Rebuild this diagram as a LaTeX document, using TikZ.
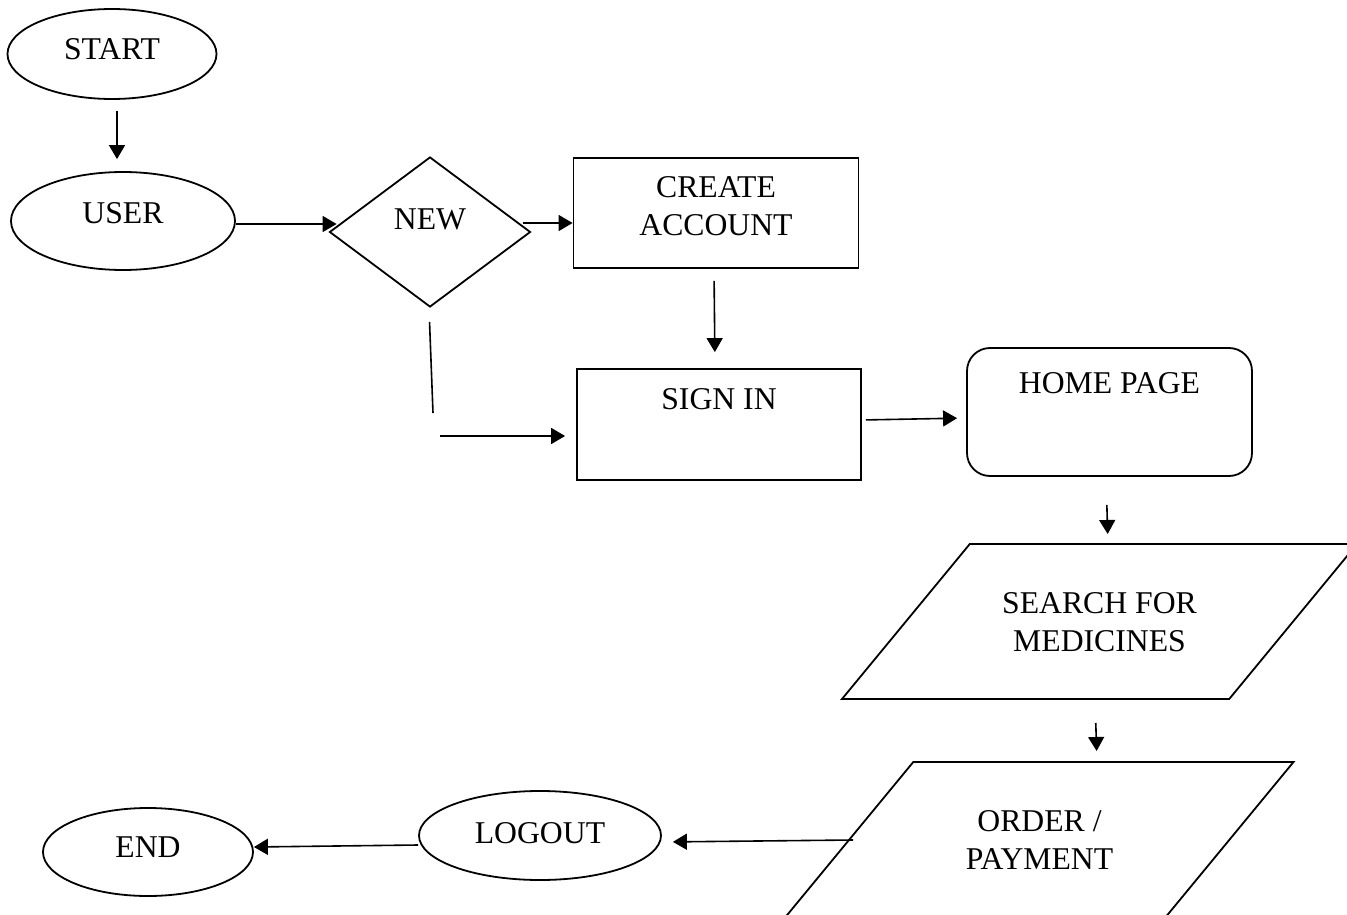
\documentclass[tikz,border=0pt]{standalone}
\usepackage{fontspec}
\setmainfont{Liberation Serif}
\usetikzlibrary{shapes.geometric, arrows.meta}

\begin{document}
\begin{tikzpicture}[x=1pt, y=-1pt,
  terminal/.style = {ellipse, draw, line width=1.8pt},
  decision/.style = {diamond, draw, line width=1.8pt, minimum width=201pt, minimum height=150pt},
  process/.style = {rectangle, draw, line width=1.8pt, minimum width=285pt, minimum height=110pt, align=center},
  io/.style = {trapezium, trapezium left angle=50.5, trapezium right angle=129.5,
               trapezium stretches body, draw, line width=1.8pt, text height=107pt, text depth=48pt, align=center},
  flow/.style = {-{Triangle[length=14pt, width=16pt]}, line width=1.6pt},
  link/.style = {line width=1.6pt},
  every node/.style = {inner sep=0pt, font=\fontsize{31.7}{38}\selectfont},
  ]
  \useasboundingbox (0,0) rectangle (1347,915);

  \node[terminal, minimum width=209pt, minimum height=90pt, text depth=9pt] (start) at (112,54) {START};
  \node[terminal, minimum width=224pt, minimum height=98pt, text depth=16pt] (user) at (123,221) {USER};
  \node[decision, text depth=26pt] (new) at (430,232) {NEW};
  \node[process, text depth=14pt] (create) at (716,213) {CREATE\\ACCOUNT};
  \node[process, minimum width=284pt, minimum height=111pt, text depth=50pt] (signin) at (719,424.5) {SIGN IN};
  \node[process, rounded corners=23pt, minimum height=128pt, text depth=57pt] (home) at (1109.5,412) {HOME PAGE};
  \node[io, minimum width=515pt] (search) at (1099.5,621.5) {SEARCH FOR\\MEDICINES};
  \node[io, minimum width=508pt] (order) at (1039.5,839.5) {ORDER /\\PAYMENT};
  \node[terminal, minimum width=242pt, minimum height=89pt, text depth=6pt] (logout) at (540,835.5) {LOGOUT};
  \node[terminal, minimum width=210pt, minimum height=88pt, text depth=10pt] (finish) at (148,852) {END};

  \coordinate (gapA) at (433,413);
  \coordinate (gapB) at (440,436);

  \draw[flow, shorten <=11pt, shorten >=12pt] ([xshift=5pt]start.south) -- ([xshift=-6pt]user.north);
  \draw[flow] ([yshift=-3pt]user.east) -- ([xshift=8pt,yshift=8pt]new.west);
  \draw[flow] ([xshift=-8pt,yshift=9pt]new.east) -- ([yshift=-10pt]create.west);
  \draw[flow, shorten <=12pt, shorten >=16pt] ([xshift=-2pt]create.south) -- ([xshift=-4pt]signin.north);
  \draw[link, shorten <=14pt] ([xshift=-1pt]new.south) -- (gapA);
  \draw[flow, shorten >=11pt] (gapB) -- ([yshift=-11.5pt]signin.west);
  \draw[flow, shorten <=4pt, shorten >=9pt] ([yshift=4.5pt]signin.east) -- ([yshift=-6pt]home.west);
  \draw[flow, shorten <=28pt, shorten >=10pt] ([xshift=-3.5pt]home.south) -- ([xshift=8.5pt,yshift=77.5pt]search.center);
  \draw[flow, shorten <=24pt, shorten >=11pt] ([xshift=-4.5pt,yshift=-77.5pt]search.center) -- ([xshift=57.5pt,yshift=77.5pt]order.center);
  \draw[flow, shorten >=11pt] ([xshift=5pt,yshift=-0.5pt]order.west) -- ([yshift=-6.5pt]logout.east);
  \draw[flow] ([yshift=-9.5pt]logout.west) -- ([yshift=5pt]finish.east);
\end{tikzpicture}
\end{document}
